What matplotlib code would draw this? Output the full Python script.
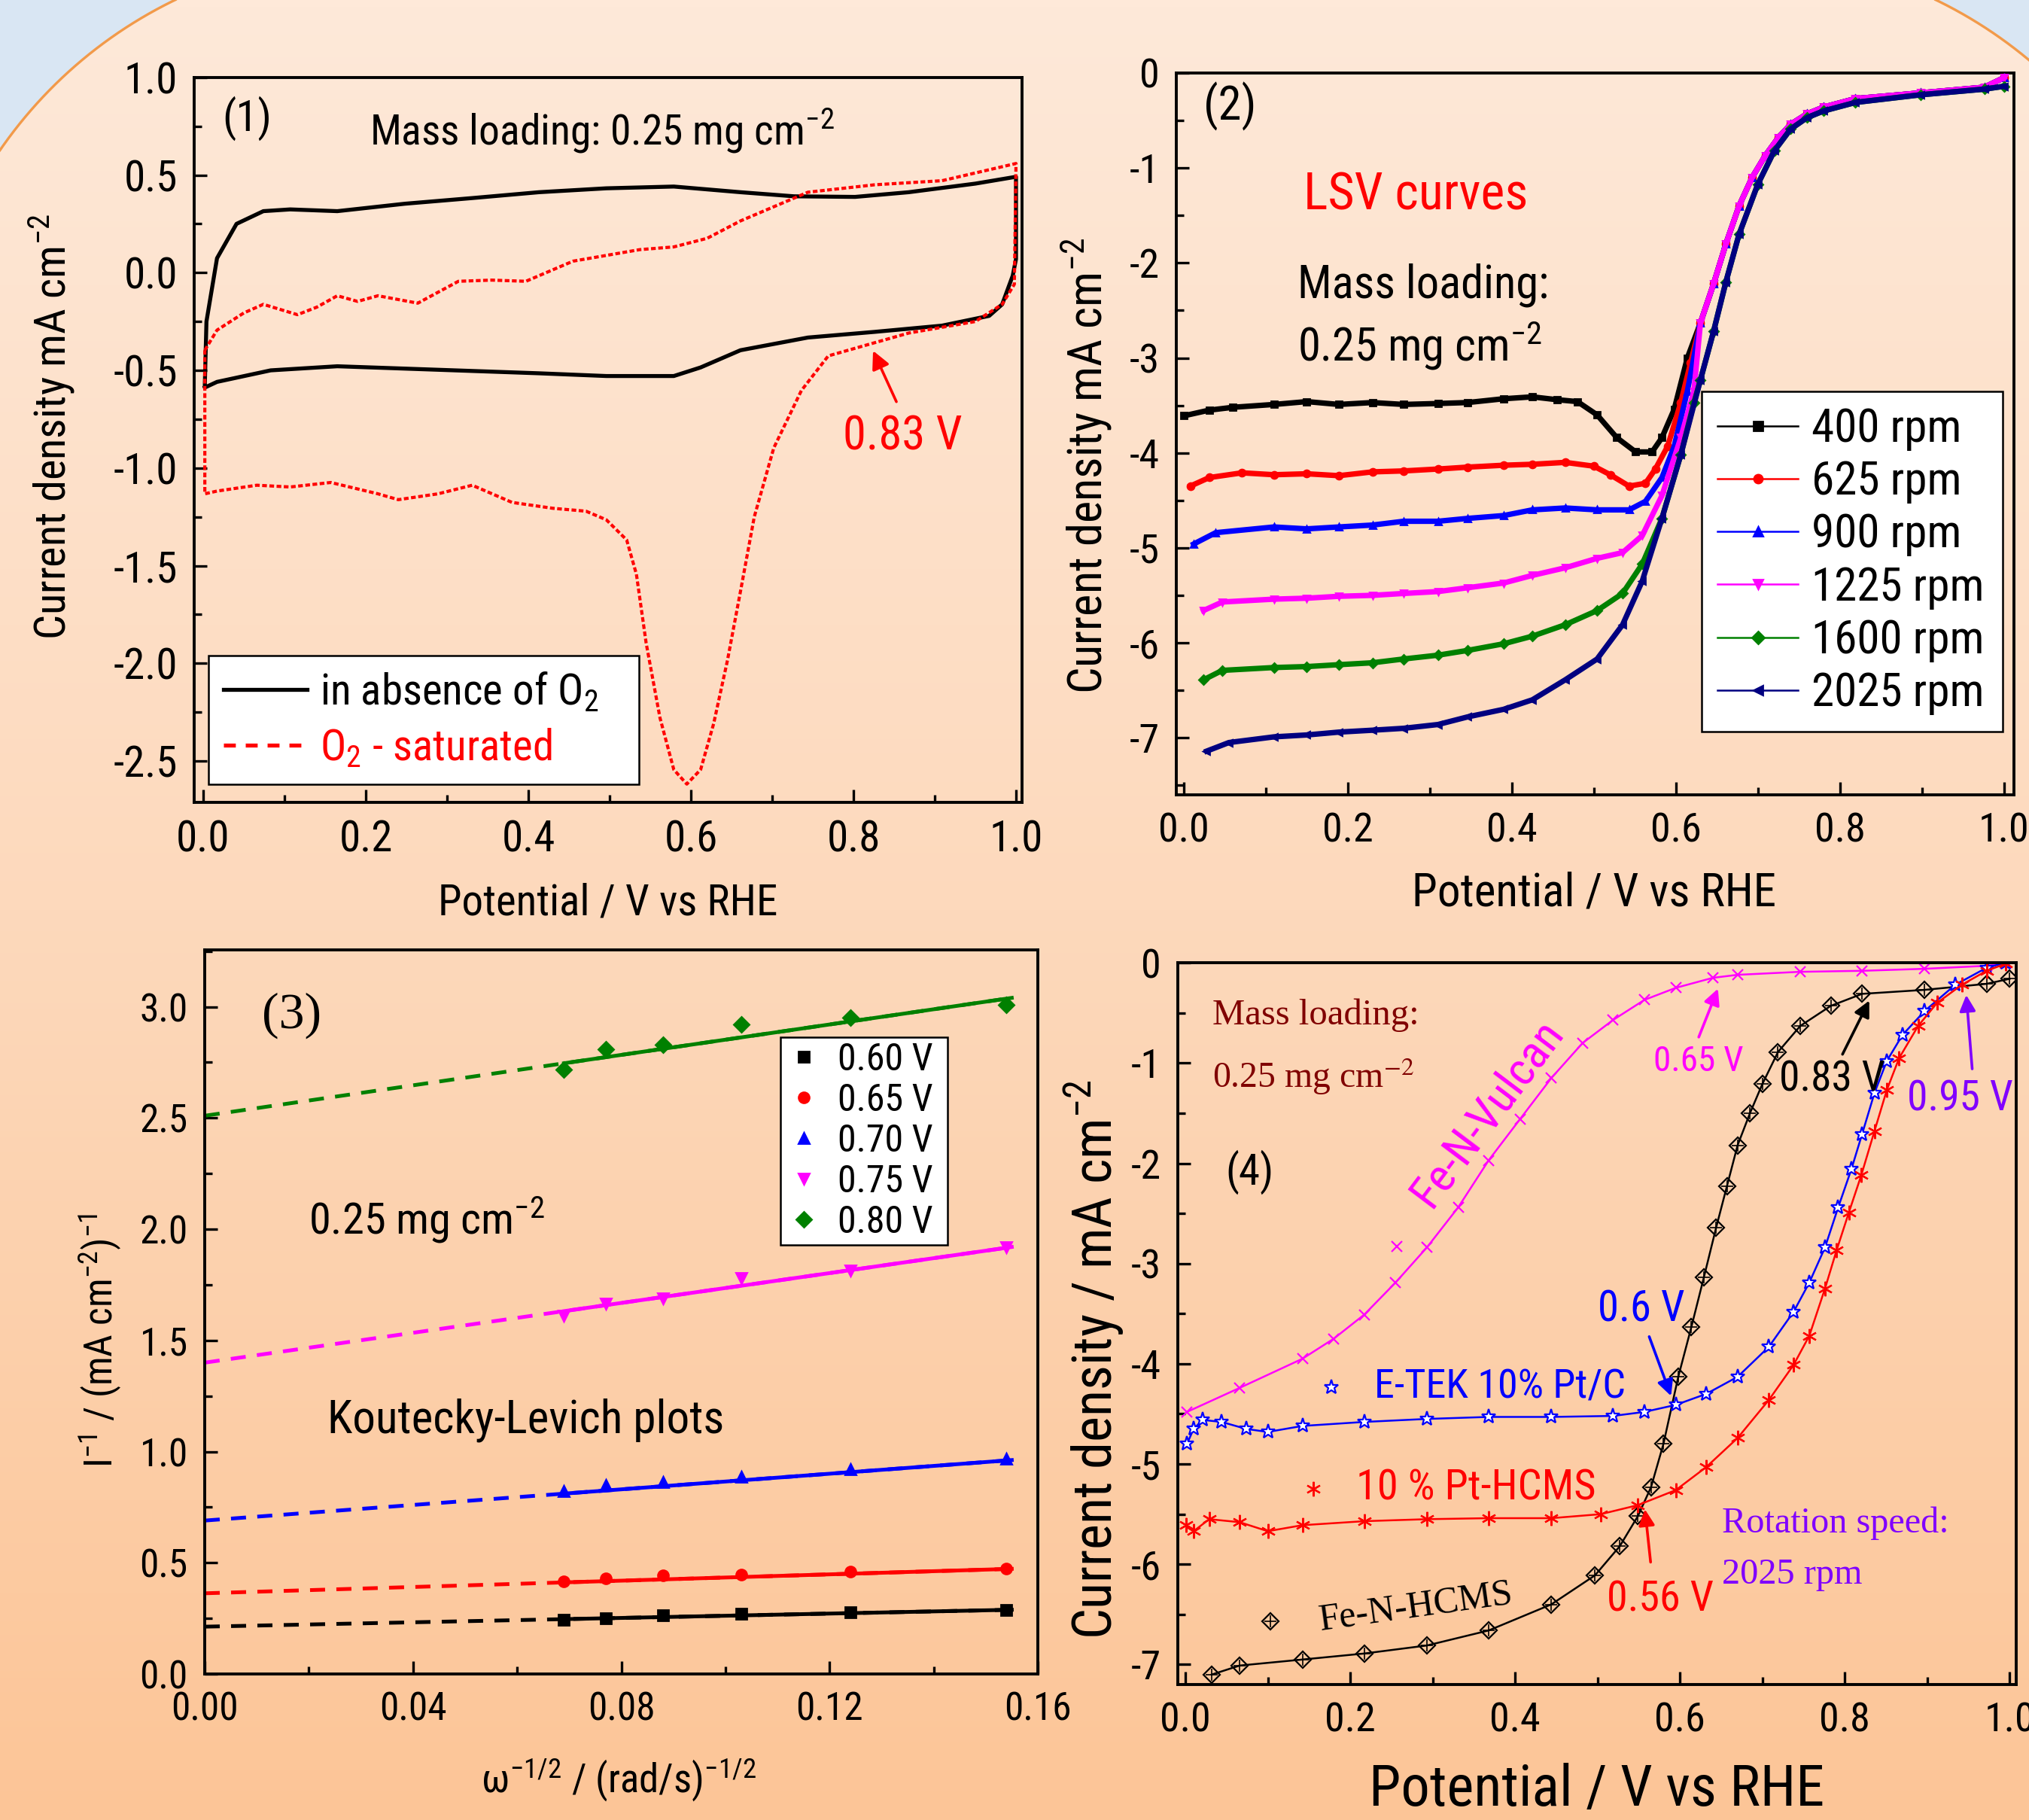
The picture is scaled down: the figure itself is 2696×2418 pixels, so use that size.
import numpy as np
import matplotlib
matplotlib.use('Agg')
import matplotlib.pyplot as plt
from matplotlib import font_manager as fm
from matplotlib.path import Path
from matplotlib.patches import PathPatch
from matplotlib.lines import Line2D
from matplotlib.ticker import MultipleLocator, FormatStrFormatter


def pick_narrow():
    entries = fm.fontManager.ttflist
    names = {f.name for f in entries}
    for p in ['Liberation Sans Narrow', 'Arial Narrow', 'Roboto Condensed', 'Open Sans Condensed',
              'Noto Sans Condensed', 'Noto Sans SemiCondensed', 'DejaVu Sans Condensed']:
        if p in names:
            return p, 'normal'
    for fam in ['Noto Sans', 'Open Sans', 'Roboto', 'Liberation Sans', 'DejaVu Sans']:
        for f in entries:
            if (f.name == fam and f.stretch in ('condensed', 'semi-condensed')
                    and f.style == 'normal' and f.weight in (400, 'normal', 'regular', 'book')):
                return fam, f.stretch
    return 'Liberation Sans', 'normal'


SANS, STRETCH = pick_narrow()
NARROW = not (SANS == 'Liberation Sans' and STRETCH == 'normal')
K = 1.0 if NARROW else 0.9
SERIF = 'Liberation Serif'
plt.rcParams['font.family'] = [SANS, 'DejaVu Sans']
plt.rcParams['font.stretch'] = STRETCH
plt.rcParams['mathtext.fontset'] = 'custom'
plt.rcParams['mathtext.rm'] = SANS
plt.rcParams['mathtext.it'] = SANS + ':italic'
plt.rcParams['axes.unicode_minus'] = False

# ---------------- panel 1 : CV ----------------
cv_n2_x = [0.002, 0.004, 0.017, 0.041, 0.074, 0.107, 0.165, 0.248, 0.331, 0.413, 0.496, 0.579,
           0.661, 0.727, 0.802, 0.868, 0.950, 1.0, 1.0, 0.996, 0.983, 0.967, 0.909, 0.826, 0.744,
           0.661, 0.612, 0.579, 0.496, 0.413, 0.248, 0.165, 0.083, 0.017, 0.002]
cv_n2_y = [-0.574, -0.25, 0.074, 0.25, 0.315, 0.324, 0.315, 0.353, 0.382, 0.412, 0.432, 0.441,
           0.412, 0.391, 0.388, 0.412, 0.456, 0.491, 0.07, -0.015, -0.162, -0.221, -0.271, -0.303,
           -0.332, -0.397, -0.485, -0.529, -0.529, -0.515, -0.491, -0.479, -0.5, -0.559, -0.588]
cv_o2_x = [0.002, 0.017, 0.05, 0.074, 0.116, 0.14, 0.165, 0.19, 0.215, 0.264, 0.314, 0.355, 0.397,
           0.455, 0.537, 0.579, 0.62, 0.661, 0.744, 0.826, 0.909, 1.0, 0.998, 0.983, 0.95, 0.868,
           0.818, 0.769, 0.736, 0.702, 0.678, 0.661, 0.645, 0.628, 0.612, 0.595, 0.579, 0.562,
           0.545, 0.533, 0.521, 0.496, 0.471, 0.43, 0.38, 0.331, 0.289, 0.24, 0.215, 0.157,
           0.107, 0.066, 0.017, 0.002, 0.002]
cv_o2_y = [-0.397, -0.294, -0.206, -0.162, -0.215, -0.176, -0.118, -0.147, -0.118, -0.156, -0.044,
           -0.038, -0.044, 0.059, 0.118, 0.132, 0.176, 0.265, 0.412, 0.45, 0.471, 0.559, -0.059,
           -0.162, -0.25, -0.309, -0.368, -0.426, -0.603, -0.897, -1.25, -1.632, -1.985, -2.309,
           -2.544, -2.618, -2.544, -2.279, -1.897, -1.544, -1.368, -1.265, -1.221, -1.206, -1.176,
           -1.088, -1.132, -1.162, -1.132, -1.074, -1.097, -1.088, -1.118, -1.132, -0.397]

# ---------------- panel 2 : LSV at several rotation rates ----------------
rpm_labels = ['400 rpm', '625 rpm', '900 rpm', '1225 rpm', '1600 rpm', '2025 rpm']
lsv_colors = ['black', 'red', 'blue', 'magenta', 'green', 'navy']
lsv_markers = ['s', 'o', '^', 'v', 'D', '<']
tail_a_x = [0.63, 0.646, 0.661, 0.677, 0.693, 0.709, 0.725, 0.74, 0.76, 0.78, 0.819, 0.898, 0.976, 1.0]
tail_a_y = [-2.63, -2.22, -1.80, -1.40, -1.10, -0.87, -0.68, -0.54, -0.43, -0.36, -0.27, -0.21,
            -0.15, -0.05]
tail_b_x = [0.63, 0.646, 0.661, 0.677, 0.70, 0.72, 0.74, 0.76, 0.78, 0.819, 0.898, 0.976, 1.0]
tail_b_y = [-3.23, -2.72, -2.2, -1.7, -1.17, -0.82, -0.59, -0.47, -0.40, -0.31, -0.23, -0.17, -0.14]
lsv400_x = [0.0, 0.031, 0.06, 0.11, 0.15, 0.189, 0.23, 0.268, 0.31, 0.346, 0.39, 0.425, 0.455,
            0.48, 0.504, 0.528, 0.551, 0.571, 0.583, 0.598, 0.614]
lsv400_y = [-3.61, -3.55, -3.52, -3.49, -3.46, -3.49, -3.47, -3.49, -3.48, -3.47, -3.43, -3.41,
            -3.44, -3.46, -3.6, -3.84, -3.99, -3.99, -3.84, -3.54, -3.0]
lsv625_x = [0.008, 0.031, 0.071, 0.11, 0.15, 0.189, 0.23, 0.268, 0.31, 0.346, 0.39, 0.425, 0.465,
            0.5, 0.52, 0.543, 0.563, 0.575, 0.59, 0.606, 0.618]
lsv625_y = [-4.35, -4.26, -4.21, -4.23, -4.22, -4.24, -4.2, -4.19, -4.17, -4.15, -4.13, -4.12,
            -4.1, -4.14, -4.23, -4.35, -4.32, -4.17, -3.93, -3.47, -3.05]
lsv900_x = [0.012, 0.039, 0.11, 0.15, 0.189, 0.23, 0.268, 0.31, 0.346, 0.39, 0.425, 0.465, 0.504,
            0.543, 0.563, 0.583, 0.598, 0.614]
lsv900_y = [-4.96, -4.84, -4.78, -4.8, -4.78, -4.76, -4.72, -4.72, -4.69, -4.66, -4.6, -4.58, -4.6,
            -4.6, -4.51, -4.26, -3.93, -3.35]
lsv1225_x = [0.024, 0.047, 0.11, 0.15, 0.189, 0.23, 0.268, 0.31, 0.346, 0.39, 0.425, 0.465, 0.504,
             0.535, 0.559, 0.583, 0.606, 0.622]
lsv1225_y = [-5.66, -5.57, -5.54, -5.53, -5.51, -5.5, -5.48, -5.46, -5.42, -5.37, -5.29, -5.21,
             -5.11, -5.05, -4.87, -4.45, -3.84, -3.35]
lsv1600_x = [0.024, 0.047, 0.11, 0.15, 0.189, 0.23, 0.268, 0.31, 0.346, 0.39, 0.425, 0.465, 0.504,
             0.535, 0.559, 0.583, 0.606, 0.622]
lsv1600_y = [-6.39, -6.29, -6.26, -6.25, -6.23, -6.21, -6.17, -6.13, -6.08, -6.01, -5.93, -5.81,
             -5.66, -5.48, -5.17, -4.69, -4.02, -3.47]
lsv2025_x = [0.028, 0.055, 0.11, 0.15, 0.189, 0.23, 0.268, 0.31, 0.346, 0.39, 0.425, 0.465, 0.504,
             0.535, 0.559, 0.583, 0.606]
lsv2025_y = [-7.14, -7.05, -6.99, -6.97, -6.94, -6.92, -6.90, -6.86, -6.78, -6.70, -6.60, -6.39,
             -6.17, -5.81, -5.35, -4.69, -4.02]

# ---------------- panel 3 : Koutecky-Levich ----------------
kl_labels = ['0.60 V', '0.65 V', '0.70 V', '0.75 V', '0.80 V']
kl_colors = ['black', 'red', 'blue', 'magenta', 'green']
kl_markers = ['s', 'o', '^', 'v', 'D']
kl_x = [0.069, 0.077, 0.088, 0.103, 0.124, 0.154]
kl_y = [[0.245, 0.252, 0.263, 0.271, 0.279, 0.289],
        [0.415, 0.429, 0.442, 0.447, 0.46, 0.473],
        [0.823, 0.849, 0.862, 0.888, 0.92, 0.968],
        [1.612, 1.665, 1.69, 1.78, 1.815, 1.92],
        [2.716, 2.81, 2.83, 2.92, 2.95, 3.01]]
kl_intercept = [0.213, 0.363, 0.69, 1.40, 2.51]
kl_end = [0.289, 0.473, 0.962, 1.92, 3.04]   # fitted value at x = 0.155

# ---------------- panel 4 : catalyst comparison ----------------
vulcan_x = [0.002, 0.066, 0.142, 0.18, 0.217, 0.255, 0.293, 0.331, 0.368, 0.406, 0.444, 0.482,
            0.519, 0.557, 0.595, 0.64, 0.67, 0.746, 0.821, 0.897, 0.972, 0.995]
vulcan_y = [-4.48, -4.24, -3.95, -3.75, -3.51, -3.19, -2.84, -2.44, -1.97, -1.56, -1.15, -0.80,
            -0.57, -0.37, -0.25, -0.15, -0.12, -0.09, -0.08, -0.06, -0.03, -0.01]
fenh_x = [0.032, 0.066, 0.142, 0.217, 0.293, 0.368, 0.444, 0.497, 0.527, 0.549, 0.565, 0.58, 0.598,
          0.614, 0.629, 0.644, 0.657, 0.67, 0.685, 0.70, 0.719, 0.746, 0.783, 0.821, 0.897, 0.972,
          1.0]
fenh_y = [-7.10, -7.01, -6.95, -6.89, -6.81, -6.66, -6.40, -6.11, -5.82, -5.52, -5.23, -4.80,
          -4.13, -3.63, -3.14, -2.64, -2.23, -1.82, -1.50, -1.21, -0.89, -0.63, -0.43, -0.31, -0.27,
          -0.21, -0.16]
etek_x = [0.002, 0.01, 0.021, 0.044, 0.074, 0.10, 0.142, 0.217, 0.293, 0.368, 0.444, 0.519, 0.557,
          0.595, 0.632, 0.67, 0.708, 0.738, 0.757, 0.776, 0.792, 0.808, 0.821, 0.836, 0.851, 0.87,
          0.897, 0.934, 0.972, 0.995]
etek_y = [-4.80, -4.65, -4.56, -4.58, -4.65, -4.68, -4.62, -4.58, -4.55, -4.53, -4.53, -4.52, -4.48,
          -4.41, -4.30, -4.13, -3.83, -3.48, -3.19, -2.84, -2.44, -2.06, -1.71, -1.30, -0.98, -0.72,
          -0.48, -0.22, -0.05, 0.0]
pthc_x = [0.001, 0.01, 0.029, 0.066, 0.10, 0.142, 0.217, 0.293, 0.368, 0.444, 0.504, 0.549, 0.595,
          0.632, 0.67, 0.708, 0.738, 0.757, 0.776, 0.79, 0.805, 0.82, 0.836, 0.851, 0.866, 0.889,
          0.912, 0.942, 0.972, 0.995]
pthc_y = [-5.61, -5.67, -5.55, -5.58, -5.67, -5.61, -5.57, -5.55, -5.54, -5.54, -5.50, -5.41, -5.26,
          -5.03, -4.74, -4.36, -4.01, -3.72, -3.25, -2.87, -2.49, -2.12, -1.68, -1.27, -0.95, -0.63,
          -0.40, -0.22, -0.08, -0.01]

W, H = 2696, 2418
fig = plt.figure(figsize=(W / 200, H / 200), dpi=200)
fig.patch.set_facecolor('#d9e6f3')

# background: peach gradient inside a big frame with rounded top corners
bg = fig.add_axes([0, 0, 1, 1], zorder=-10)
bg.set_xlim(0, W)
bg.set_ylim(H, 0)
bg.axis('off')
grad = np.linspace(0, 1, 256)[:, None]
cmap = matplotlib.colors.LinearSegmentedColormap.from_list('peach', ['#fee9d9', '#fdd9bc', '#fcc597'])
im = bg.imshow(grad, extent=(0, W, H, 0), aspect='auto', cmap=cmap)
R = 600
t1 = np.linspace(np.pi, 1.5 * np.pi, 80)
t2 = np.linspace(1.5 * np.pi, 2 * np.pi, 80)
verts = ([(-106, H + 200)] + list(zip(494 + R * np.cos(t1), 540 + R * np.sin(t1)))
         + list(zip(2311 + R * np.cos(t2), 540 + R * np.sin(t2))) + [(2911, H + 200), (-106, H + 200)])
frame = PathPatch(Path(verts, closed=True), transform=bg.transData, fc='none', ec='#f29a4a', lw=1.2)
bg.add_patch(frame)
im.set_clip_path(frame)


def style(ax, xmaj, xmin, ymaj, ymin, xfmt, yfmt, fs):
    ax.set_facecolor('none')
    for s in ax.spines.values():
        s.set_linewidth(1.4)
    ax.xaxis.set_major_locator(MultipleLocator(xmaj))
    ax.xaxis.set_minor_locator(MultipleLocator(xmin))
    ax.yaxis.set_major_locator(MultipleLocator(ymaj))
    ax.yaxis.set_minor_locator(MultipleLocator(ymin))
    ax.xaxis.set_major_formatter(FormatStrFormatter(xfmt))
    ax.yaxis.set_major_formatter(FormatStrFormatter(yfmt))
    ax.tick_params(which='both', direction='in', top=False, right=False, width=1.2,
                   labelsize=fs * K)
    ax.tick_params(which='major', length=6, pad=8)
    ax.tick_params(which='minor', length=3.5)


def box(leg):
    leg.get_frame().set_linewidth(0.9)
    leg.get_frame().set_edgecolor('black')


# ---------- panel 1 ----------
ax1 = fig.add_axes([0.0957, 0.5592, 0.408, 0.3983])
ax1.plot(cv_n2_x, cv_n2_y, color='black', lw=1.9)
ax1.plot(cv_o2_x, cv_o2_y, color='red', lw=1.5, ls=(0, (1.5, 0.8)))
ax1.set_xlim(-0.0111, 1.0074)
ax1.set_ylim(-2.711, 1.0)
style(ax1, 0.2, 0.1, 0.5, 0.25, '%.1f', '%.1f', 20.5)
ax1.text(0.023, 0.79, '(1)', fontsize=21 * K, va='center')
ax1.text(0.205, 0.73, 'Mass loading: 0.25 mg cm$^{-2}$', fontsize=20 * K, va='center')
ax1.annotate('', xy=(0.822, -0.38), xytext=(0.855, -0.68),
             arrowprops=dict(arrowstyle='-|>', color='red', lw=1.3, mutation_scale=18))
ax1.text(0.787, -0.84, '0.83 V', color='red', fontsize=22.5 * K, va='center')
h1 = [Line2D([], [], color='black', lw=1.9), Line2D([], [], color='red', lw=1.9, ls=(0, (3, 2.5)))]
leg1 = ax1.legend(h1, ['in absence of O$_2$', 'O$_2$ - saturated'], loc='lower left',
                  bbox_to_anchor=(0.017, 0.025, 0.52, 0.2), mode='expand', borderaxespad=0,
                  fontsize=20.5 * K, frameon=True, fancybox=False, framealpha=1,
                  handlelength=1.95, handletextpad=0.3, labelspacing=0.32, borderpad=0.35)
box(leg1)
leg1.get_texts()[1].set_color('red')
ax1.text(-0.172, 0.518, 'Current density mA cm$^{-2}$', transform=ax1.transAxes, rotation=90,
         ha='center', va='center', fontsize=21 * K)
ax1.text(0.5, -0.139, 'Potential / V vs RHE', transform=ax1.transAxes, ha='center', va='center',
         fontsize=20.5 * K)

# ---------- panel 2 ----------
ax2 = fig.add_axes([0.5797, 0.5633, 0.4128, 0.3966])
heads = [(lsv400_x, lsv400_y), (lsv625_x, lsv625_y), (lsv900_x, lsv900_y),
         (lsv1225_x, lsv1225_y), (lsv1600_x, lsv1600_y), (lsv2025_x, lsv2025_y)]
for i, (hx, hy) in enumerate(heads):
    if i < 4:
        xs, ys = hx + tail_a_x, hy + tail_a_y
    else:
        xs, ys = hx + tail_b_x, hy + tail_b_y
    ax2.plot(xs, ys, color=lsv_colors[i], lw=2.6, marker=lsv_markers[i], ms=3.2,
             zorder=3 + i * 0.1)
ax2.set_xlim(-0.0092, 1.012)
ax2.set_ylim(-7.6, 0)
style(ax2, 0.2, 0.1, 1, 0.5, '%.1f', '%d', 19.5)
ax2.text(0.024, -0.35, '(2)', fontsize=22.5 * K, va='center')
ax2.text(0.146, -1.29, 'LSV curves', color='red', fontsize=24.5 * K, va='center')
ax2.text(0.139, -2.23, 'Mass loading:', fontsize=21.8 * K, va='center')
ax2.text(0.139, -2.87, '0.25 mg cm$^{-2}$', fontsize=21.8 * K, va='center')
h2 = [Line2D([], [], color=c, lw=0.9, marker=m, ms=4) for c, m in zip(lsv_colors, lsv_markers)]
leg2 = ax2.legend(h2, rpm_labels, loc='lower left', bbox_to_anchor=(0.627, 0.088, 0.36, 0.47),
                  mode='expand', borderaxespad=0, fontsize=22 * K, frameon=True,
                  fancybox=False, framealpha=1, handlelength=1.75, handletextpad=0.3,
                  labelspacing=0.2, borderpad=0.35)
box(leg2)
ax2.text(-0.107, 0.456, 'Current density mA cm$^{-2}$', transform=ax2.transAxes, rotation=90,
         ha='center', va='center', fontsize=22.5 * K)
ax2.text(0.499, -0.136, 'Potential / V vs RHE', transform=ax2.transAxes, ha='center',
         va='center', fontsize=22 * K)

# ---------- panel 3 ----------
ax3 = fig.add_axes([0.1009, 0.0802, 0.4106, 0.3978])
for i in range(5):
    slope = (kl_end[i] - kl_intercept[i]) / 0.155
    ax3.plot([0, 0.155], [kl_intercept[i], kl_end[i]], color=kl_colors[i], lw=1.8,
             ls=(0, (4, 3)))
    ax3.plot([kl_x[0], 0.155], [kl_intercept[i] + slope * kl_x[0], kl_end[i]],
             color=kl_colors[i], lw=1.8)
    ax3.plot(kl_x, kl_y[i], ls='none', marker=kl_markers[i], color=kl_colors[i], ms=5)
ax3.set_xlim(0, 0.16)
ax3.set_ylim(0, 3.255)
style(ax3, 0.04, 0.02, 0.5, 0.25, '%.2f', '%.1f', 18.5)
ax3.text(0.011, 2.96, '(3)', fontsize=24.5, va='center', family=SERIF)
ax3.text(0.020, 2.04, '0.25 mg cm$^{-2}$', fontsize=21 * K, va='center')
ax3.text(0.0236, 1.14, 'Koutecky-Levich plots', fontsize=22 * K, va='center')
h3 = [Line2D([], [], ls='none', marker=m, color=c, ms=5) for c, m in zip(kl_colors, kl_markers)]
leg3 = ax3.legend(h3, kl_labels, loc='upper left', bbox_to_anchor=(0.691, 0.588, 0.201, 0.292),
                  mode='expand', borderaxespad=0, fontsize=18 * K, frameon=True,
                  fancybox=False, framealpha=1, handlelength=1.0, handletextpad=0.4,
                  labelspacing=0.12, borderpad=0.12)
box(leg3)
ax3.text(-0.125, 0.46, 'I$^{-1}$ / (mA cm$^{-2}$)$^{-1}$', transform=ax3.transAxes, rotation=90,
         ha='center', va='center', fontsize=18.5 * K)
ax3.text(0.497, -0.146, 'ω$^{-1/2}$ / (rad/s)$^{-1/2}$', transform=ax3.transAxes,
         ha='center', va='center', fontsize=19 * K)

# ---------- panel 4 ----------
ax4 = fig.add_axes([0.5805, 0.0744, 0.4132, 0.3966])
ax4.plot(vulcan_x, vulcan_y, color='magenta', lw=0.9, marker='x', ms=5, mew=0.8)
ax4.plot(fenh_x, fenh_y, color='black', lw=0.9, marker='D', ms=5.5, mfc='none', mew=0.8)
ax4.plot(fenh_x, fenh_y, ls='none', color='black', marker='+', ms=5.5, mew=0.6)
ax4.plot(etek_x, etek_y, color='blue', lw=0.9, marker='*', ms=7, mfc='white', mew=0.8)
ax4.plot(pthc_x, pthc_y, color='red', lw=0.9, marker=(6, 2, 0), ms=7, mew=0.8)
ax4.set_xlim(-0.0091, 1.008)
ax4.set_ylim(-7.2, 0)
style(ax4, 0.2, 0.1, 1, 0.5, '%.1f', '%d', 19.5)

# inline legend symbols next to the curve labels
ax4.plot([0.257], [-2.83], marker='x', color='magenta', ms=5, mew=0.8)
ax4.plot([0.177], [-4.23], marker='*', color='blue', mfc='white', ms=7, mew=0.8)
ax4.plot([0.155], [-5.25], marker=(6, 2, 0), color='red', ms=7, mew=0.8)
ax4.plot([0.103], [-6.57], marker='D', color='black', mfc='none', ms=5.5, mew=0.8)
ax4.plot([0.103], [-6.57], marker='+', color='black', ms=5.5, mew=0.6)

ax4.text(0.033, -0.52, 'Mass loading:', color='#800000', fontsize=17.5, va='center', family=SERIF)
ax4.text(0.033, -1.13, '0.25 mg cm$^{-2}$', color='#800000', fontsize=17.2, va='center',
         family=SERIF, math_fontfamily='stix')
ax4.text(0.078, -2.09, '(4)', fontsize=20.5 * K, ha='center', va='center')
ax4.text(0.366, -1.50, 'Fe-N-Vulcan', color='magenta', fontsize=22.3 * K, ha='center',
         va='center', rotation=53)
ax4.text(0.229, -4.23, 'E-TEK 10% Pt/C', color='blue', fontsize=19.5 * K, va='center')
ax4.text(0.207, -5.24, '10 % Pt-HCMS', color='red', fontsize=20.3 * K, va='center')
ax4.text(0.280, -6.43, 'Fe-N-HCMS', color='black', fontsize=17.9, ha='center', va='center',
         rotation=8, family=SERIF)
ax4.text(0.651, -5.59, 'Rotation speed:', color='#8000ff', fontsize=17.4, va='center',
         family=SERIF)
ax4.text(0.651, -6.10, '2025 rpm', color='#8000ff', fontsize=17.4, va='center', family=SERIF)

arrows4 = [('0.65 V', 'magenta', (0.568, -0.98), (0.621, -0.78), (0.648, -0.22), 17),
           ('0.83 V', 'black', (0.72, -1.16), (0.795, -0.95), (0.832, -0.34), 20),
           ('0.95 V', '#8000ff', (0.876, -1.36), (0.955, -1.10), (0.947, -0.28), 20),
           ('0.6 V', 'blue', (0.50, -3.46), (0.561, -3.69), (0.591, -4.36), 20.4),
           ('0.56 V', 'red', (0.511, -6.35), (0.565, -6.02), (0.557, -5.41), 20.2)]
for lab, col, tpos, tail, head, fs in arrows4:
    ax4.text(tpos[0], tpos[1], lab, color=col, fontsize=fs * K, va='center')
    ax4.annotate('', xy=head, xytext=tail,
                 arrowprops=dict(arrowstyle='-|>', color=col, lw=1.3, mutation_scale=16))

ax4.text(-0.10, 0.45, 'Current density / mA cm$^{-2}$', transform=ax4.transAxes, rotation=90,
         ha='center', va='center', fontsize=26 * K)
ax4.text(0.5, -0.146, 'Potential / V vs RHE', transform=ax4.transAxes, ha='center', va='center',
         fontsize=27.5 * K)

fig.savefig('out.png', dpi=200, facecolor=fig.get_facecolor())
